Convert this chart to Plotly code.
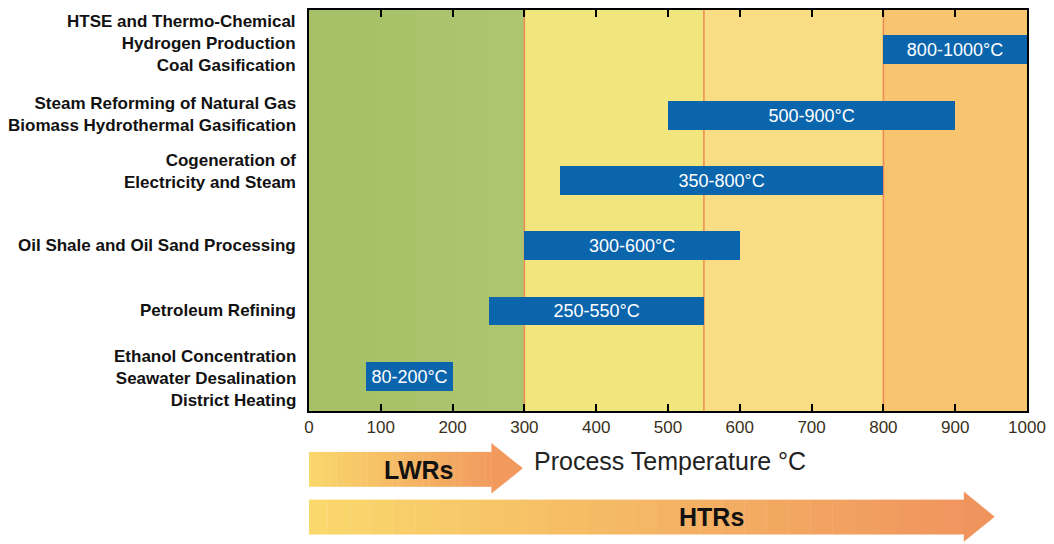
import plotly.graph_objects as go

# data
labels = [
    "Ethanol Concentration<br>Seawater Desalination<br>District Heating",
    "Petroleum Refining",
    "Oil Shale and Oil Sand Processing",
    "Cogeneration of<br>Electricity and Steam",
    "Steam Reforming of Natural Gas<br>Biomass Hydrothermal Gasification",
    "HTSE and Thermo-Chemical<br>Hydrogen Production<br>Coal Gasification",
]
t_low = [80, 250, 300, 350, 500, 800]
t_high = [200, 550, 600, 800, 900, 1000]
label_shift = [-2, 1, 0, 9, 1, 6]

zones = [0, 300, 550, 800, 1000]
zone_colors = ["#a9c36b", "#f1e67e", "#f9dd84", "#f7c470"]
tick_vals = list(range(0, 1001, 100))

ypos = list(range(len(labels)))
FONT = "Liberation Sans, Arial"

fig = go.Figure()
fig.add_trace(go.Bar(
    y=ypos, x=[h - l for l, h in zip(t_low, t_high)], base=t_low,
    orientation="h", width=0.44,
    marker=dict(color="#0a65ad", line=dict(width=0)),
    text=[f"{l}-{h}°C" for l, h in zip(t_low, t_high)],
    textposition="inside", insidetextanchor="middle",
    textfont=dict(color="white", size=18, family=FONT),
    hoverinfo="skip", cliponaxis=False,
))

shapes = []
# background zones
for i, c in enumerate(zone_colors):
    shapes.append(dict(type="rect", xref="x", yref="paper", x0=zones[i], x1=zones[i + 1],
                       y0=0, y1=1, fillcolor=c, line=dict(width=0), layer="below"))
# soft gradient on green zone
green_steps = ["#a6c068", "#a7c169", "#a8c26a", "#aac36c", "#abc46d", "#adc56f"]
for k, c in enumerate(green_steps):
    shapes.append(dict(type="rect", xref="x", yref="paper", x0=k * 50, x1=(k + 1) * 50,
                       y0=0, y1=1, fillcolor=c, line=dict(width=0), layer="below"))
for z in zones[1:-1]:
    shapes.append(dict(type="line", xref="x", yref="paper", x0=z, x1=z, y0=0, y1=1,
                       line=dict(color="#ee8a55", width=1.5), layer="below"))


def arrow(x0, xh, xt, yb0, yb1, yh0, yh1, c0, c1, n=30):
    def mix(t):
        a = [int(c0[i:i + 2], 16) for i in (1, 3, 5)]
        b = [int(c1[i:i + 2], 16) for i in (1, 3, 5)]
        return "#%02x%02x%02x" % tuple(int(a[j] + (b[j] - a[j]) * t) for j in range(3))
    out = []
    w = (xh - x0) / n
    for k in range(n):
        out.append(dict(type="rect", xref="x", yref="paper", x0=x0 + k * w, x1=x0 + (k + 1) * w + 0.5,
                        y0=yb0, y1=yb1, fillcolor=mix(k / n), line=dict(width=0)))
    ym = (yh0 + yh1) / 2
    out.append(dict(type="path", xref="x", yref="paper",
                    path=f"M {xh},{yh0} L {xt},{ym} L {xh},{yh1} Z",
                    fillcolor=mix(1.0), line=dict(width=0)))
    return out


shapes += arrow(-5, 254, 298, -0.102, -0.189, -0.080, -0.206, "#fad86c", "#f29a5e")
shapes += arrow(-5, 912, 955, -0.221, -0.308, -0.201, -0.326, "#fad86c", "#f0945e")

annotations = []
for yv, lab, s in zip(ypos, labels, label_shift):
    annotations.append(dict(x=-0.015, xref="paper", y=yv, yref="y", yshift=s, text=f"<b>{lab}</b>",
                            showarrow=False, xanchor="right", yanchor="middle", align="right",
                            font=dict(size=17, color="#111", family=FONT)))
annotations.append(dict(x=503, xref="x", y=-0.124, yref="paper", text="Process Temperature °C",
                        showarrow=False, xanchor="center", yanchor="middle",
                        font=dict(size=25, color="#222", family=FONT)))
annotations.append(dict(x=152, xref="x", y=-0.147, yref="paper", text="<b>LWRs</b>",
                        showarrow=False, xanchor="center", yanchor="middle",
                        font=dict(size=25, color="#111", family=FONT)))
annotations.append(dict(x=561, xref="x", y=-0.265, yref="paper", text="<b>HTRs</b>",
                        showarrow=False, xanchor="center", yanchor="middle",
                        font=dict(size=25, color="#111", family=FONT)))

fig.update_layout(
    width=1046, height=536,
    margin=dict(l=301, r=27, t=0, b=133),
    paper_bgcolor="white", plot_bgcolor="white",
    showlegend=False, bargap=0,
    shapes=shapes, annotations=annotations,
    font=dict(family=FONT),
    xaxis=dict(range=[0, 1000], tickvals=tick_vals, ticks="inside", ticklen=7, tickwidth=1.5,
               tickcolor="black", showline=True, linecolor="black", linewidth=2, mirror="ticks",
               showgrid=False, zeroline=False, tickfont=dict(size=17, color="#3a3020")),
    yaxis=dict(range=[-0.53, 5.61], showticklabels=False, showgrid=False, zeroline=False,
               showline=True, linecolor="black", linewidth=2, mirror=True, ticks=""),
)

fig.write_html("out.html")
